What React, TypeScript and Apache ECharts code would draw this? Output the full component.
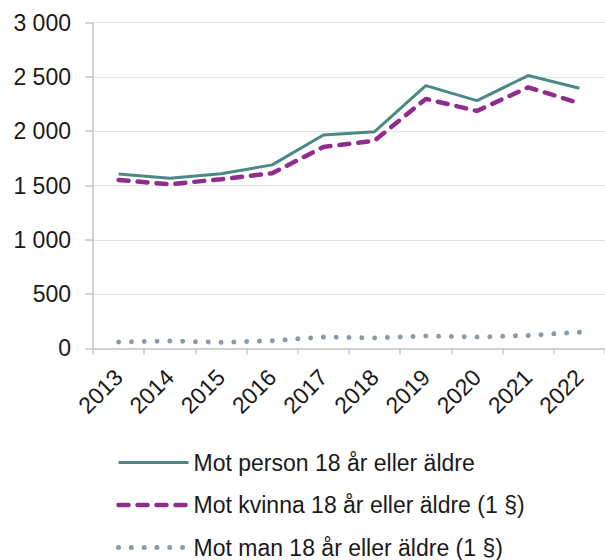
import React, { useEffect, useRef } from "react";
import * as echarts from "echarts";

const years = ["2013", "2014", "2015", "2016", "2017", "2018", "2019", "2020", "2021", "2022"];
const personValues = [1606, 1567, 1608, 1690, 1966, 1996, 2420, 2282, 2513, 2396];
const kvinnaValues = [1551, 1511, 1558, 1613, 1855, 1913, 2298, 2187, 2405, 2258];
const manValues = [58, 68, 55, 70, 104, 95, 114, 104, 118, 148];
const seriesNames = [
  "Mot person 18 år eller äldre",
  "Mot kvinna 18 år eller äldre (1 §)",
  "Mot man 18 år eller äldre (1 §)",
];

const FONT = "'Liberation Sans', Arial, Helvetica, sans-serif";
const TEAL = "#4c8985";
const PURPLE = "#902c8e";
const GRAY = "#8c9aa5";

const personStyle = { color: TEAL, width: 3 };
const kvinnaStyle = { color: PURPLE, width: 4.5, type: [10, 9], cap: "round" };
const manStyle = { color: GRAY, width: 5, type: [0.01, 12.8], cap: "round" };

function fmt(v: number): string {
  return String(v).replace(/\B(?=(\d{3})+(?!\d))/g, " ");
}

export default function App() {
  const ref = useRef<HTMLDivElement>(null);
  useEffect(() => {
    if (!ref.current) return;
    const chart = echarts.init(ref.current, undefined, { renderer: "svg" });
    chart.setOption({
      animation: false,
      backgroundColor: "#ffffff",
      grid: { left: 93, right: -2, top: 22.7, bottom: 211.7, containLabel: false },
      xAxis: {
        type: "category",
        data: years,
        boundaryGap: true,
        axisLine: { show: true, lineStyle: { color: "#c6c6c6", width: 1.5 } },
        axisTick: { show: true, length: 6, lineStyle: { color: "#c6c6c6", width: 1.5 } },
        axisLabel: {
          rotate: 45,
          margin: 25,
          fontSize: 23,
          fontFamily: FONT,
          color: "#1a1a1a",
          interval: 0,
        },
      },
      yAxis: {
        type: "value",
        min: 0,
        max: 3000,
        interval: 500,
        axisLine: { show: true, lineStyle: { color: "#c6c6c6", width: 1.5 } },
        axisTick: { show: true, length: 8, lineStyle: { color: "#c6c6c6", width: 1.5 } },
        splitLine: { show: true, lineStyle: { color: "#e2e2e2", width: 1.2 } },
        axisLabel: {
          margin: 22,
          fontSize: 23,
          fontFamily: FONT,
          color: "#1a1a1a",
          formatter: (v: number) => fmt(v),
        },
      },
      legend: {
        orient: "vertical",
        left: 116,
        top: 451,
        height: 200,
        padding: 0,
        itemWidth: 70,
        itemHeight: 14,
        itemGap: 19.5,
        textStyle: { fontSize: 23, fontFamily: FONT, color: "#1a1a1a" },
        data: [
          { name: seriesNames[0], itemStyle: { opacity: 0 }, lineStyle: personStyle },
          { name: seriesNames[1], itemStyle: { opacity: 0 }, lineStyle: kvinnaStyle },
          { name: seriesNames[2], itemStyle: { opacity: 0 }, lineStyle: manStyle },
        ],
      },
      series: [
        {
          name: seriesNames[0],
          type: "line",
          data: personValues,
          symbol: "none",
          lineStyle: personStyle,
          itemStyle: { color: TEAL },
        },
        {
          name: seriesNames[1],
          type: "line",
          data: kvinnaValues,
          symbol: "none",
          lineStyle: kvinnaStyle,
          itemStyle: { color: PURPLE },
        },
        {
          name: seriesNames[2],
          type: "line",
          data: manValues,
          symbol: "none",
          lineStyle: manStyle,
          itemStyle: { color: GRAY },
        },
      ],
    });
    return () => chart.dispose();
  }, []);
  return (
    <div
      ref={ref}
      style={{ position: "fixed", left: 0, top: 0, width: 605, height: 560 }}
    />
  );
}
